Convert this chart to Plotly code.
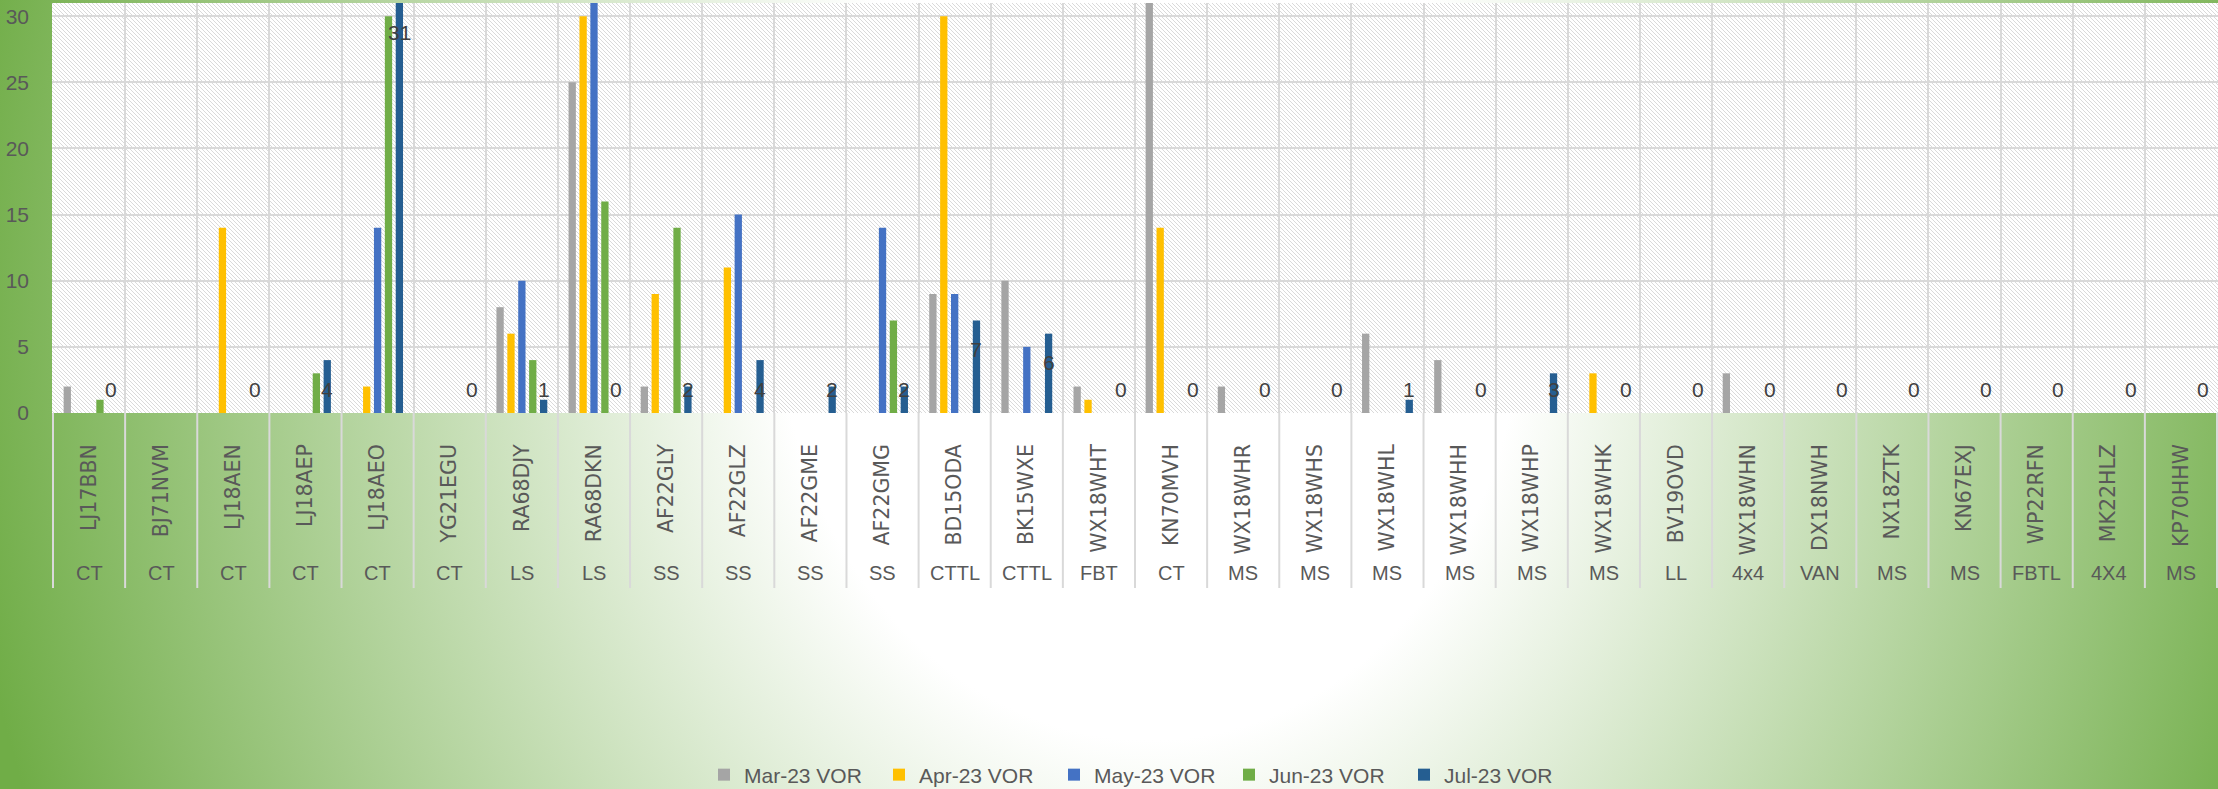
import base64
import plotly.graph_objects as go

# ---------------- data ----------------
regs = ["LJ17BBN", "BJ71NVM", "LJ18AEN", "LJ18AEP", "LJ18AEO", "YG21EGU", "RA68DJY", "RA68DKN",
        "AF22GLY", "AF22GLZ", "AF22GME", "AF22GMG", "BD15ODA", "BK15WXE", "WX18WHT", "KN70MVH",
        "WX18WHR", "WX18WHS", "WX18WHL", "WX18WHH", "WX18WHP", "WX18WHK", "BV19OVD", "WX18WHN",
        "DX18NWH", "NX18ZTK", "KN67EXJ", "WP22RFN", "MK22HLZ", "KP70HHW"]
types = ["CT", "CT", "CT", "CT", "CT", "CT", "LS", "LS", "SS", "SS", "SS", "SS", "CTTL", "CTTL",
         "FBT", "CT", "MS", "MS", "MS", "MS", "MS", "MS", "LL", "4x4", "VAN", "MS", "MS", "FBTL",
         "4X4", "MS"]
mar23 = [2, 0, 0, 0, 0, 0, 8, 25, 2, 0, 0, 0, 9, 10, 2, 31, 2, 0, 6, 4, 0, 0, 0, 3, 0, 0, 0, 0, 0, 0]
apr23 = [0, 0, 14, 0, 2, 0, 6, 30, 9, 11, 0, 0, 30, 0, 1, 14, 0, 0, 0, 0, 0, 3, 0, 0, 0, 0, 0, 0, 0, 0]
may23 = [0, 0, 0, 0, 14, 0, 10, 31, 0, 15, 0, 14, 9, 5, 0, 0, 0, 0, 0, 0, 0, 0, 0, 0, 0, 0, 0, 0, 0, 0]
jun23 = [1, 0, 0, 3, 30, 0, 4, 16, 14, 0, 0, 7, 0, 0, 0, 0, 0, 0, 0, 0, 0, 0, 0, 0, 0, 0, 0, 0, 0, 0]
jul23 = [0, None, 0, 4, 31, 0, 1, 0, 2, 4, 2, 2, 7, 6, 0, 0, 0, 0, 1, 0, 3, 0, 0, 0, 0, 0, 0, 0, 0, 0]
series_names = ["Mar-23 VOR", "Apr-23 VOR", "May-23 VOR", "Jun-23 VOR", "Jul-23 VOR"]
y_ticks = [0, 5, 10, 15, 20, 25, 30]

# ---------------- styling / layout geometry ----------------
colors = ["#A5A5A5", "#FFC000", "#4472C4", "#70AD47", "#255E91"]
W, H = 2218, 789
PX0, PX1 = 52, 2218          # plot area left / right (px)
PTOP, PZERO = 3, 413         # plot area top / bottom (px)
CAT_BOTTOM = 588             # bottom of category axis area (px)
TYPE_Y = 573                 # centre of the outer category labels (px)
LEGEND_Y = 775
LEGEND_X = 704
BARGAP, GROUPGAP = 0.245, 0.33
TXT = "#595959"
SANS = "Liberation Sans, Arial, sans-serif"

def px_x(p):
    return p / W

def px_y(p):
    return 1 - p / H

def svg_uri(svg):
    return "data:image/svg+xml;base64," + base64.b64encode(svg.encode()).decode()

grad_svg = f'''<svg xmlns="http://www.w3.org/2000/svg" width="{W}" height="{H}" viewBox="0 0 {W} {H}">
<defs><radialGradient id="g" gradientUnits="userSpaceOnUse" cx="0" cy="0" r="1"
 gradientTransform="translate(1150 300) scale(1200 1420)">
<stop offset="0" stop-color="#ffffff"/><stop offset="0.31" stop-color="#ffffff"/>
<stop offset="1" stop-color="#70AD47"/></radialGradient></defs>
<rect x="0" y="0" width="{W}" height="{H}" fill="url(#g)"/></svg>'''

pw, ph = PX1 - PX0, PZERO - PTOP
HC = "#dadada"
hatch_svg = f'''<svg xmlns="http://www.w3.org/2000/svg" width="{pw}" height="{ph}" viewBox="0 0 {pw} {ph}" shape-rendering="crispEdges">
<defs><pattern id="h" width="4" height="4" patternUnits="userSpaceOnUse">
<rect width="4" height="4" fill="#ffffff"/>
<rect x="0" y="0" width="1" height="1" fill="{HC}"/><rect x="1" y="1" width="1" height="1" fill="{HC}"/>
<rect x="2" y="2" width="1" height="1" fill="{HC}"/><rect x="3" y="3" width="1" height="1" fill="{HC}"/>
</pattern></defs>
<rect x="0" y="0" width="{pw}" height="{ph}" fill="url(#h)"/></svg>'''

fig = go.Figure()
for name, vals, col in zip(series_names, [mar23, apr23, may23, jun23, jul23], colors):
    fig.add_trace(go.Bar(x=regs, y=vals, name=name, marker=dict(color=col, line=dict(width=0))))

# data labels on the Jul-23 series (inside end, kept inside the plot)
cat_w = (PX1 - PX0) / len(regs)
slot = cat_w * (1 - BARGAP) / len(series_names)
for r, v in zip(regs, jul23):
    if v is None:
        continue
    fig.add_annotation(x=r, y=max(v, 4), xref="x", yref="y", text=str(v), showarrow=False,
                       xshift=2 * slot, yshift=-29, yanchor="middle",
                       font=dict(family=SANS, size=21, color="#404040"))

# outer category labels (vehicle type)
for r, t in zip(regs, types):
    fig.add_annotation(x=r, y=px_y(TYPE_Y), xref="x", yref="paper", text=t, showarrow=False,
                       yanchor="middle", font=dict(family=SANS, size=20, color=TXT))

# separators in the category axis area
for i in range(len(regs) + 1):
    fig.add_shape(type="line", xref="x", yref="paper", x0=i - 0.5, x1=i - 0.5,
                  y0=px_y(CAT_BOTTOM), y1=px_y(PZERO), line=dict(color="#d9d9d9", width=2),
                  layer="below")

fig.update_layout(
    width=W, height=H,
    margin=dict(l=0, r=0, t=0, b=0, pad=0, autoexpand=False),
    paper_bgcolor="#ffffff",
    plot_bgcolor="rgba(0,0,0,0)",
    barmode="group", bargap=BARGAP, bargroupgap=GROUPGAP,
    images=[
        dict(source=svg_uri(grad_svg), xref="paper", yref="paper", x=0, y=1, sizex=1, sizey=1,
             xanchor="left", yanchor="top", sizing="stretch", layer="below"),
        dict(source=svg_uri(hatch_svg), xref="paper", yref="paper", x=px_x(PX0), y=px_y(PTOP),
             sizex=pw / W, sizey=ph / H, xanchor="left", yanchor="top", sizing="stretch",
             layer="below"),
    ],
    xaxis=dict(domain=[px_x(PX0), px_x(PX1)], type="category", automargin=False,
               showgrid=True, gridcolor="#d9d9d9", gridwidth=2, tickson="boundaries",
               ticks="", tickangle=-90, ticklabelstandoff=26,
               tickfont=dict(family="DejaVu Sans, sans-serif", size=20.5, color=TXT),
               showline=False, zeroline=False),
    yaxis=dict(domain=[px_y(PZERO), px_y(PTOP)], range=[0, 31], automargin=False,
               tickvals=y_ticks, showgrid=True, gridcolor="#d9d9d9", gridwidth=2,
               zeroline=False, showline=False, ticks="", ticklabelstandoff=22,
               tickfont=dict(family=SANS, size=21, color=TXT)),
    legend=dict(orientation="h", x=px_x(LEGEND_X), xanchor="left", y=px_y(LEGEND_Y),
                yanchor="middle", font=dict(family=SANS, size=21, color=TXT),
                bgcolor="rgba(0,0,0,0)", traceorder="normal", entrywidth=130,
                entrywidthmode="pixels"),
    showlegend=True,
)

page_js = (
    "var gd=document.getElementById('{plot_id}');"
    "document.documentElement.style.margin='0';document.documentElement.style.overflow='hidden';"
    "document.body.style.margin='0';document.body.style.overflow='hidden';"
    "gd.style.position='fixed';gd.style.left='0px';gd.style.top='0px';"
)

fig.write_html("out.html", config={"displayModeBar": False}, post_script=page_js)
